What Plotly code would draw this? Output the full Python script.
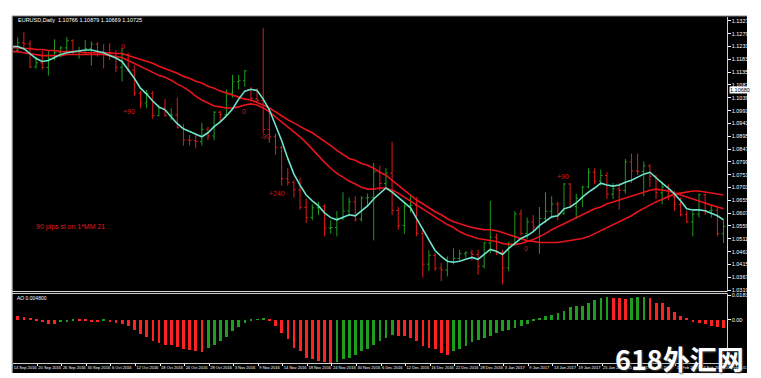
import plotly.graph_objects as go
import pandas as pd

# ---------------- data (EURUSD daily, bar index -1 .. 115) ----------------
bar_dates = ["2016-09-13"] + [d.strftime("%Y-%m-%d") for d in pd.bdate_range("2016-09-14", "2017-02-22")]
bar_index = list(range(-1, len(bar_dates) - 1))

opens = [1.1240, 1.1217, 1.1245, 1.1241, 1.1155, 1.1170, 1.1153, 1.1187, 1.1209, 1.1226,
         1.1253, 1.1213, 1.1216, 1.1224, 1.1240, 1.1210, 1.1206, 1.1204, 1.1153, 1.1200,
         1.1143, 1.1056, 1.1020, 1.1055, 1.0972, 1.1000, 1.0973, 1.0975, 1.0927, 1.0881,
         1.0879, 1.0875, 1.0921, 1.0896, 1.0985, 1.0976, 1.1057, 1.1099, 1.1103, 1.1070,
         1.1036, 1.1030, 1.0920, 1.0893, 1.0853, 1.0736, 1.0722, 1.0694, 1.0629, 1.0590,
         1.0627, 1.0632, 1.0551, 1.0553, 1.0588, 1.0615, 1.0649, 1.0584, 1.0664, 1.0665,
         1.0762, 1.0718, 1.0757, 1.0617, 1.0561, 1.0633, 1.0636, 1.0531, 1.0416, 1.0449,
         1.0401, 1.0394, 1.0425, 1.0437, 1.0455, 1.0458, 1.0452, 1.0408, 1.0495, 1.0517,
         1.0459, 1.0402, 1.0489, 1.0604, 1.0531, 1.0574, 1.0555, 1.0587, 1.0614, 1.0641,
         1.0605, 1.0716, 1.0631, 1.0663, 1.0705, 1.0760, 1.0727, 1.0748, 1.0678, 1.0698,
         1.0692, 1.0799, 1.0765, 1.0763, 1.0784, 1.0745, 1.0683, 1.0705, 1.0668, 1.0640,
         1.0601, 1.0574, 1.0603, 1.0676, 1.0616, 1.0618, 1.0530]
highs = [1.1270, 1.1265, 1.1285, 1.1254, 1.1193, 1.1215, 1.1215, 1.1258, 1.1232, 1.1265,
         1.1258, 1.1230, 1.1256, 1.1250, 1.1247, 1.1240, 1.1243, 1.1217, 1.1225, 1.1208,
         1.1160, 1.1065, 1.1068, 1.1065, 1.1010, 1.1035, 1.1000, 1.1040, 1.0940, 1.0900,
         1.0905, 1.0945, 1.0930, 1.0990, 1.0990, 1.1070, 1.1125, 1.1125, 1.1143, 1.1080,
         1.1075, 1.1300, 1.0990, 1.0905, 1.0860, 1.0775, 1.0730, 1.0740, 1.0660, 1.0640,
         1.0650, 1.0640, 1.0580, 1.0615, 1.0685, 1.0665, 1.0670, 1.0670, 1.0680, 1.0795,
         1.0785, 1.0775, 1.0874, 1.0630, 1.0645, 1.0670, 1.0667, 1.0550, 1.0468, 1.0457,
         1.0420, 1.0445, 1.0475, 1.0470, 1.0465, 1.0470, 1.0470, 1.0500, 1.0653, 1.0530,
         1.0470, 1.0500, 1.0615, 1.0620, 1.0590, 1.0600, 1.0630, 1.0685, 1.0670, 1.0650,
         1.0720, 1.0720, 1.0680, 1.0710, 1.0775, 1.0775, 1.0770, 1.0760, 1.0720, 1.0720,
         1.0810, 1.0830, 1.0830, 1.0800, 1.0790, 1.0750, 1.0725, 1.0715, 1.0690, 1.0665,
         1.0615, 1.0615, 1.0680, 1.0680, 1.0635, 1.0630, 1.0580]
lows = [1.1210, 1.1213, 1.1218, 1.1150, 1.1148, 1.1145, 1.1122, 1.1180, 1.1190, 1.1208,
        1.1200, 1.1185, 1.1200, 1.1160, 1.1193, 1.1149, 1.1180, 1.1135, 1.1100, 1.1135,
        1.1045, 1.1000, 1.1000, 1.0960, 1.0970, 1.0968, 1.0955, 1.0925, 1.0860, 1.0860,
        1.0850, 1.0860, 1.0880, 1.0880, 1.0945, 1.0970, 1.1040, 1.1070, 1.1080, 1.1025,
        1.1020, 1.0905, 1.0870, 1.0825, 1.0710, 1.0710, 1.0665, 1.0620, 1.0570, 1.0580,
        1.0600, 1.0520, 1.0530, 1.0520, 1.0580, 1.0595, 1.0575, 1.0575, 1.0630, 1.0505,
        1.0690, 1.0705, 1.0600, 1.0545, 1.0530, 1.0610, 1.0520, 1.0366, 1.0390, 1.0390,
        1.0352, 1.0370, 1.0415, 1.0430, 1.0440, 1.0430, 1.0376, 1.0400, 1.0455, 1.0450,
        1.0340, 1.0390, 1.0485, 1.0523, 1.0510, 1.0540, 1.0455, 1.0570, 1.0595, 1.0580,
        1.0600, 1.0625, 1.0585, 1.0630, 1.0700, 1.0715, 1.0710, 1.0660, 1.0660, 1.0620,
        1.0680, 1.0720, 1.0750, 1.0670, 1.0705, 1.0660, 1.0640, 1.0655, 1.0615, 1.0595,
        1.0570, 1.0520, 1.0590, 1.0600, 1.0590, 1.0520, 1.0495]
closes = [1.1217, 1.1245, 1.1241, 1.1155, 1.1170, 1.1153, 1.1187, 1.1209, 1.1226, 1.1253,
          1.1213, 1.1216, 1.1224, 1.1240, 1.1210, 1.1206, 1.1204, 1.1153, 1.1200, 1.1143,
          1.1056, 1.1020, 1.1055, 1.0972, 1.1000, 1.0973, 1.0975, 1.0927, 1.0881, 1.0879,
          1.0875, 1.0921, 1.0896, 1.0985, 1.0976, 1.1057, 1.1099, 1.1103, 1.1140, 1.1036,
          1.1030, 1.0920, 1.0893, 1.0853, 1.0736, 1.0722, 1.0694, 1.0629, 1.0590, 1.0627,
          1.0632, 1.0551, 1.0553, 1.0588, 1.0615, 1.0649, 1.0584, 1.0664, 1.0665, 1.0762,
          1.0718, 1.0757, 1.0617, 1.0561, 1.0633, 1.0636, 1.0531, 1.0416, 1.0449, 1.0401,
          1.0394, 1.0425, 1.0437, 1.0455, 1.0458, 1.0452, 1.0408, 1.0495, 1.0517, 1.0459,
          1.0402, 1.0489, 1.0604, 1.0531, 1.0574, 1.0555, 1.0587, 1.0614, 1.0641, 1.0605,
          1.0716, 1.0631, 1.0663, 1.0705, 1.0760, 1.0727, 1.0748, 1.0678, 1.0698, 1.0692,
          1.0799, 1.0765, 1.0763, 1.0784, 1.0745, 1.0683, 1.0705, 1.0668, 1.0640, 1.0601,
          1.0574, 1.0603, 1.0676, 1.0616, 1.0618, 1.0530, 1.0557]

ma_fast = [1.1231, 1.1231, 1.1223, 1.1205, 1.1186, 1.1175, 1.1179, 1.1190, 1.1201, 1.1208,
           1.1212, 1.1214, 1.1218, 1.1218, 1.1212, 1.1208, 1.1197, 1.1188, 1.1175, 1.1145,
           1.1112, 1.1075, 1.1053, 1.1027, 1.1005, 1.0994, 1.0968, 1.0942, 1.0923, 1.0912,
           1.0901, 1.0893, 1.0908, 1.0931, 1.0949, 1.0971, 1.0997, 1.1034, 1.1064, 1.1071,
           1.1066, 1.1034, 1.0994, 1.0938, 1.0879, 1.0812, 1.0753, 1.0712, 1.0675, 1.0653,
           1.0634, 1.0608, 1.0590, 1.0582, 1.0590, 1.0601, 1.0597, 1.0616, 1.0634, 1.0660,
           1.0682, 1.0701, 1.0686, 1.0667, 1.0649, 1.0627, 1.0586, 1.0545, 1.0504, 1.0467,
           1.0445, 1.0427, 1.0423, 1.0427, 1.0434, 1.0441, 1.0434, 1.0452, 1.0471, 1.0464,
           1.0452, 1.0475, 1.0493, 1.0512, 1.0523, 1.0538, 1.0560, 1.0578, 1.0593, 1.0597,
           1.0623, 1.0630, 1.0645, 1.0667, 1.0686, 1.0701, 1.0719, 1.0712, 1.0708, 1.0712,
           1.0723, 1.0730, 1.0742, 1.0753, 1.0760, 1.0738, 1.0719, 1.0701, 1.0679, 1.0653,
           1.0623, 1.0619, 1.0619, 1.0616, 1.0608, 1.0597, 1.0582]

ma_mid = [1.1212, 1.1212, 1.1208, 1.1205, 1.1201, 1.1197, 1.1197, 1.1197, 1.1197, 1.1201,
          1.1201, 1.1201, 1.1201, 1.1201, 1.1201, 1.1201, 1.1197, 1.1194, 1.1190, 1.1179,
          1.1168, 1.1157, 1.1145, 1.1134, 1.1123, 1.1116, 1.1105, 1.1090, 1.1079, 1.1064,
          1.1045, 1.1031, 1.1019, 1.1008, 1.1005, 1.1001, 1.1001, 1.1005, 1.1012, 1.1016,
          1.1012, 1.1001, 1.0986, 1.0968, 1.0949, 1.0931, 1.0912, 1.0893, 1.0871, 1.0845,
          1.0819, 1.0797, 1.0775, 1.0756, 1.0742, 1.0727, 1.0716, 1.0704, 1.0697, 1.0697,
          1.0701, 1.0701, 1.0693, 1.0682, 1.0667, 1.0653, 1.0637, 1.0623, 1.0608, 1.0593,
          1.0578, 1.0564, 1.0553, 1.0538, 1.0527, 1.0519, 1.0512, 1.0508, 1.0504, 1.0501,
          1.0493, 1.0490, 1.0490, 1.0493, 1.0501, 1.0508, 1.0519, 1.0530, 1.0545, 1.0556,
          1.0567, 1.0578, 1.0590, 1.0601, 1.0612, 1.0623, 1.0630, 1.0642, 1.0649, 1.0656,
          1.0664, 1.0671, 1.0679, 1.0686, 1.0693, 1.0697, 1.0693, 1.0690, 1.0682, 1.0675,
          1.0667, 1.0660, 1.0653, 1.0645, 1.0637, 1.0630, 1.0623]

ma_slow = [1.1227, 1.1227, 1.1223, 1.1223, 1.1220, 1.1220, 1.1216, 1.1216, 1.1212, 1.1212,
           1.1212, 1.1212, 1.1208, 1.1208, 1.1208, 1.1208, 1.1208, 1.1205, 1.1205, 1.1197,
           1.1190, 1.1182, 1.1175, 1.1168, 1.1157, 1.1149, 1.1138, 1.1131, 1.1119, 1.1112,
           1.1101, 1.1094, 1.1082, 1.1075, 1.1064, 1.1057, 1.1049, 1.1042, 1.1034, 1.1031,
           1.1023, 1.1012, 1.1001, 1.0986, 1.0971, 1.0957, 1.0945, 1.0931, 1.0919, 1.0908,
           1.0893, 1.0875, 1.0860, 1.0842, 1.0827, 1.0812, 1.0805, 1.0793, 1.0786, 1.0775,
           1.0760, 1.0749, 1.0730, 1.0712, 1.0693, 1.0675, 1.0656, 1.0642, 1.0627, 1.0612,
           1.0601, 1.0586, 1.0575, 1.0567, 1.0560, 1.0553, 1.0549, 1.0545, 1.0545, 1.0541,
           1.0534, 1.0527, 1.0519, 1.0512, 1.0504, 1.0501, 1.0497, 1.0497, 1.0497, 1.0497,
           1.0501, 1.0504, 1.0508, 1.0512, 1.0519, 1.0530, 1.0541, 1.0553, 1.0564, 1.0575,
           1.0586, 1.0597, 1.0612, 1.0623, 1.0637, 1.0649, 1.0660, 1.0671, 1.0679, 1.0682,
           1.0686, 1.0690, 1.0690, 1.0686, 1.0682, 1.0679, 1.0675]

ao_values = [0.0030, 0.0025, 0.0017, 0.0008, -0.0008, -0.0020, -0.0032, -0.0035, -0.0020, -0.0017,
             -0.0008, -0.0010, -0.0013, -0.0017, -0.0019, -0.0013, -0.0020, -0.0025, -0.0032, -0.0045,
             -0.0075, -0.0105, -0.0130, -0.0163, -0.0175, -0.0188, -0.0193, -0.0208, -0.0225, -0.0233,
             -0.0238, -0.0242, -0.0218, -0.0188, -0.0158, -0.0130, -0.0088, -0.0055, -0.0025, -0.0004,
             0.0005, 0.0015, -0.0013, -0.0050, -0.0100, -0.0145, -0.0212, -0.0238, -0.0287, -0.0300,
             -0.0313, -0.0317, -0.0330, -0.0317, -0.0300, -0.0287, -0.0268, -0.0238, -0.0225, -0.0188,
             -0.0163, -0.0137, -0.0113, -0.0120, -0.0125, -0.0137, -0.0163, -0.0200, -0.0212, -0.0225,
             -0.0250, -0.0270, -0.0238, -0.0225, -0.0200, -0.0170, -0.0150, -0.0137, -0.0120, -0.0100,
             -0.0088, -0.0075, -0.0062, -0.0050, -0.0030, -0.0008, 0.0008, 0.0025, 0.0038, 0.0050,
             0.0068, 0.0095, 0.0105, 0.0107, 0.0130, 0.0150, 0.0163, 0.0175, 0.0163, 0.0161,
             0.0160, 0.0163, 0.0170, 0.0172, 0.0163, 0.0125, 0.0124, 0.0095, 0.0062, 0.0030,
             0.0008, -0.0020, -0.0025, -0.0032, -0.0045, -0.0055, -0.0062]

date_labels = ["14 Sep 2016", "20 Sep 2016", "26 Sep 2016", "30 Sep 2016", "6 Oct 2016",
               "12 Oct 2016", "18 Oct 2016", "24 Oct 2016", "28 Oct 2016", "3 Nov 2016",
               "9 Nov 2016", "14 Nov 2016", "18 Nov 2016", "24 Nov 2016", "30 Nov 2016",
               "6 Dec 2016", "12 Dec 2016", "16 Dec 2016", "22 Dec 2016", "28 Dec 2016",
               "3 Jan 2017", "9 Jan 2017", "13 Jan 2017", "19 Jan 2017", "25 Jan 2017",
               "31 Jan 2017", "6 Feb 2017", "10 Feb 2017", "16 Feb 2017", "22 Feb 2017"]

price_ticks = [round(1.0319 + 0.0048 * k, 4) for k in range(22)]
ao_ticks = [0.018321, 0.0]
ao_tick_text = ["0.018321", "0.00"]

trade_notes = ["0", "+90", "0", "-90", "+240", "0", "+90"]
trade_note_bar = [17.1, 18.2, 36.9, 40.3, 42.2, 82.8, 88.9]
trade_note_price = [1.1231, 1.0986, 1.0986, 1.0893, 1.0679, 1.0475, 1.0745]

title_text = "EURUSD,Daily  1.10766 1.10879 1.10669 1.10725"
current_price = 1.10680
ao_title = "AO 0.004800"
strategy_note = "90 pips sl on 1*MM 21"
watermark = "618外汇网"

assert len(opens) == len(highs) == len(lows) == len(closes) == len(bar_index)
assert len(ma_fast) == len(ma_mid) == len(ma_slow) == len(ao_values) == len(bar_index)

# ---------------- styling ----------------
W, H = 761, 378
def fx(p):
    return p / W
def fy(p):
    return 1 - p / H

UP = "#1f9b1f"
DN = "#e01a1a"
MA_RED = "#e8141c"
MA_CYAN = "#6ee3cc"
AO_UP = "#1e9e1e"
AO_DN = "#ff2222"
FONT = "Liberation Sans, Arial, sans-serif"

X_RANGE = [-0.79, 115.5]

fig = go.Figure()

fig.add_trace(go.Ohlc(
    x=bar_index, open=opens, high=highs, low=lows, close=closes,
    increasing=dict(line=dict(color=UP, width=1)),
    decreasing=dict(line=dict(color=DN, width=1)),
    tickwidth=0.3, showlegend=False, hoverinfo="skip", xaxis="x", yaxis="y"))

for vals, col in [(ma_slow, MA_RED), (ma_mid, MA_RED), (ma_fast, MA_CYAN)]:
    fig.add_trace(go.Scatter(x=bar_index, y=vals, mode="lines",
                             line=dict(color=col, width=1.6),
                             showlegend=False, hoverinfo="skip", xaxis="x", yaxis="y"))

ao_colors = [AO_DN] + [AO_UP if ao_values[i] > ao_values[i - 1] else AO_DN
                       for i in range(1, len(ao_values))]
fig.add_trace(go.Bar(x=bar_index, y=ao_values, marker=dict(color=ao_colors, line=dict(width=0)),
                     width=0.45, showlegend=False, hoverinfo="skip", xaxis="x2", yaxis="y2"))

label_font = dict(family=FONT, size=5.5, color="white")

fig.update_layout(
    width=W, height=H, margin=dict(l=0, r=0, t=0, b=0),
    paper_bgcolor="white", plot_bgcolor="black",
    bargap=0,
    xaxis=dict(domain=[fx(5), fx(740)], range=X_RANGE, anchor="y",
               showticklabels=False, showgrid=False, zeroline=False, showline=False,
               ticks="", rangeslider=dict(visible=False), fixedrange=True),
    yaxis=dict(domain=[fy(284), fy(7)], range=[1.03153, 1.13419], anchor="x", side="right",
               tickvals=price_ticks, ticktext=["%.5f" % v for v in price_ticks],
               tickfont=label_font, ticks="outside", ticklen=3, tickcolor="white",
               showgrid=False, zeroline=False, showline=True, linecolor="#d0d0d0", linewidth=1,
               fixedrange=True),
    xaxis2=dict(domain=[fx(5), fx(740)], range=X_RANGE, anchor="y2",
                tickvals=[4 * k - 0.8 for k in range(len(date_labels))], ticktext=date_labels,
                tickangle=0, ticklabelposition="outside right", ticklabelstandoff=0,
                tickfont=dict(family=FONT, size=4, color="white"),
                ticks="outside", ticklen=2, tickcolor="white",
                showgrid=False, zeroline=False, showline=True, linecolor="#d0d0d0", linewidth=1,
                fixedrange=True),
    yaxis2=dict(domain=[fy(357), fy(287)], range=[-0.033, 0.0195], anchor="x2", side="right",
                tickvals=ao_ticks, ticktext=ao_tick_text, tickfont=label_font,
                ticks="outside", ticklen=3, tickcolor="white",
                showgrid=False, zeroline=False, showline=True, linecolor="#d0d0d0", linewidth=1,
                fixedrange=True),
)

shapes = [
    dict(type="rect", xref="paper", yref="paper", x0=fx(4), x1=1, y0=fy(367), y1=fy(6),
         fillcolor="black", line=dict(width=0), layer="below"),
    dict(type="line", xref="paper", yref="paper", x0=fx(4), x1=1, y0=fy(6), y1=fy(6),
         line=dict(color="#9a9a9a", width=1)),
    dict(type="line", xref="paper", yref="paper", x0=fx(4.5), x1=fx(4.5), y0=fy(367), y1=fy(6),
         line=dict(color="#9a9a9a", width=1)),
    dict(type="line", xref="paper", yref="paper", x0=fx(4), x1=fx(741), y0=fy(284.5), y1=fy(284.5),
         line=dict(color="#d8d8d8", width=1)),
    dict(type="line", xref="paper", yref="paper", x0=fx(4), x1=fx(741), y0=fy(286.5), y1=fy(286.5),
         line=dict(color="#d8d8d8", width=1)),
]
fig.update_layout(shapes=shapes)

annotations = [
    dict(xref="paper", yref="paper", x=fx(8), y=fy(10), text=title_text, showarrow=False,
         xanchor="left", yanchor="middle", font=dict(family=FONT, size=5.5, color="white")),
    dict(xref="paper", yref="paper", x=fx(7), y=fy(291), text=ao_title, showarrow=False,
         xanchor="left", yanchor="middle", font=dict(family=FONT, size=5, color="white")),
    dict(xref="paper", yref="y", x=fx(742), y=current_price, text="%.5f" % current_price,
         showarrow=False, xanchor="left", yanchor="middle", bgcolor="white",
         font=dict(family=FONT, size=5.5, color="black"), borderpad=0),
    dict(xref="x", yref="y", x=2.7, y=1.0556, text=strategy_note, showarrow=False,
         xanchor="left", yanchor="middle", font=dict(family=FONT, size=7, color="#e01a1a")),
]
for t, bx, bp in zip(trade_notes, trade_note_bar, trade_note_price):
    annotations.append(dict(xref="x", yref="y", x=bx, y=bp, text=t, showarrow=False,
                            xanchor="center", yanchor="middle",
                            font=dict(family=FONT, size=7, color="#d41818")))
annotations.append(dict(xref="paper", yref="paper", x=fx(691), y=fy(352), text="<b>" + watermark + "</b>",
                        showarrow=False, xanchor="center", yanchor="middle",
                        font=dict(family="Noto Sans CJK SC, sans-serif", size=27, color="white",
                                  shadow="1px 1px 2px #444")))
fig.update_layout(annotations=annotations)

fig.write_html("out.html")
